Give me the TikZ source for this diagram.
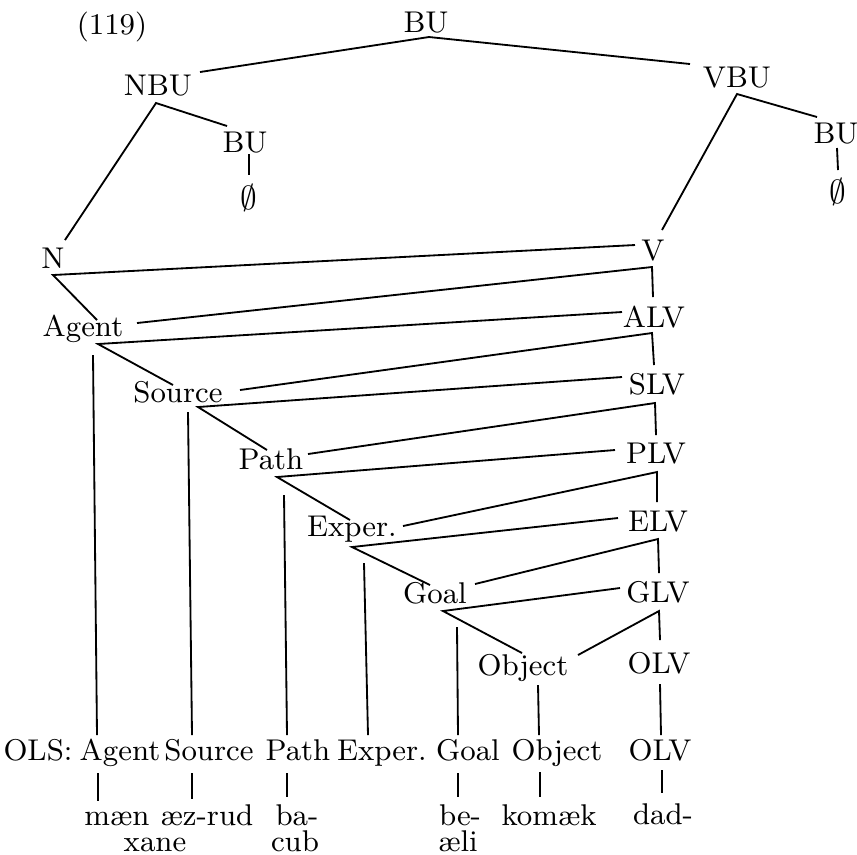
\documentclass[tikz,border=0pt]{standalone}
\usepackage{fontspec}
\begin{document}
\begin{tikzpicture}[x=0.3pt,y=-0.3pt,
  lbl/.style={inner sep=0pt, anchor=base, font=\fontsize{9}{11}\selectfont},
  nul/.style={inner sep=0pt, anchor=center, font=\fontsize{10}{12}\selectfont},
  ln/.style={line width=0.55pt}]
\useasboundingbox (0,0) rectangle (857,854);
% ---------- labels ----------
\node[lbl] (num) at (112,34) {(119)};
\node[lbl] (BU) at (426,32) {BU};
\node[lbl] (NBU) at (158,95) {NBU};
\node[lbl] (BUl) at (245,152) {BU};
\node[nul] (nulL) at (249,198) {$\emptyset$};
\node[lbl] (VBU) at (737,87) {VBU};
\node[lbl] (BUr) at (836,143) {BU};
\node[nul] (nulR) at (838,192) {$\emptyset$};
\node[lbl] (N) at (53,268) {N};
\node[lbl] (V) at (653,260) {V};
\node[lbl] (Ag) at (83,336) {Agent};
\node[lbl] (ALV) at (654,327) {ALV};
\node[lbl] (So) at (178,402) {Source};
\node[lbl] (SLV) at (657,394) {SLV};
\node[lbl] (Pa) at (271,469) {Path};
\node[lbl] (PLV) at (656,463) {PLV};
\node[lbl] (Ex) at (352,536) {Exper.};
\node[lbl] (ELV) at (658,531) {ELV};
\node[lbl] (Go) at (435,603) {Goal};
\node[lbl] (GLV) at (658,602) {GLV};
\node[lbl] (Ob) at (523,675) {Object};
\node[lbl] (OLV) at (659,673) {OLV};
% bottom row
\node[lbl] (OLS) at (38,760) {OLS:};
\node[lbl] (bAg) at (120,760) {Agent};
\node[lbl] (bSo) at (209,760) {Source};
\node[lbl] (bPa) at (298,760) {Path};
\node[lbl] (bEx) at (382,760) {Exper.};
\node[lbl] (bGo) at (468,760) {Goal};
\node[lbl] (bOb) at (557,760) {Object};
\node[lbl] (bOLV) at (660,760) {OLV};
% words
\node[lbl] (w1) at (117,825) {mæn};
\node[lbl] (w2) at (207,825) {æz-rud};
\node[lbl] (w2b) at (155,851) {xane};
\node[lbl] (w3) at (297,825) {ba-};
\node[lbl] (w3b) at (295,851) {cub};
\node[lbl] (w4) at (460,825) {be-};
\node[lbl] (w4b) at (458,851) {æli};
\node[lbl] (w5) at (549,825) {komæk};
\node[lbl] (w6) at (663,824) {dad-};
% ---------- junction / end coordinates ----------
\coordinate (BUj) at (429,37);
\coordinate (NBUr) at (200,72);
\coordinate (VBUl) at (690,64);
\coordinate (NBUj) at (156,103);
\coordinate (BUlt) at (227,126);
\coordinate (Nt) at (65,240);
\coordinate (VBUj) at (737,94);
\coordinate (BUrt) at (817,117);
\coordinate (Vt) at (662,230);
\coordinate (BUlb) at (249,154);
\coordinate (nulLt) at (249,175);
\coordinate (BUrb) at (837,148);
\coordinate (nulRt) at (838,170);
% N / V row
\coordinate (Nj) at (53,275);
\coordinate (Vl) at (635,245);
\coordinate (Agt) at (97,320);
\coordinate (Vj) at (652,267);
\coordinate (Agr) at (137,323);
\coordinate (ALVt) at (653,297);
% Agent / ALV
\coordinate (Agj) at (98,344);
\coordinate (ALVl) at (622,312);
\coordinate (Sot) at (173,385);
\coordinate (ALVj) at (652,333);
\coordinate (Sor) at (240,390);
\coordinate (SLVt) at (654,365);
% Source / SLV
\coordinate (Soj) at (198,407);
\coordinate (SLVl) at (622,377);
\coordinate (Pat) at (267,450);
\coordinate (SLVj) at (655,403);
\coordinate (Par) at (308,454);
\coordinate (PLVt) at (656,435);
% Path / PLV
\coordinate (Paj) at (277,477);
\coordinate (PLVl) at (615,450);
\coordinate (Ext) at (350,520);
\coordinate (PLVj) at (657,472);
\coordinate (Exr) at (403,526);
\coordinate (ELVt) at (657,502);
% Exper / ELV
\coordinate (Exj) at (352,547);
\coordinate (ELVl) at (618,518);
\coordinate (Got) at (430,585);
\coordinate (ELVj) at (658,539);
\coordinate (Gor) at (475,584);
\coordinate (GLVt) at (659,573);
% Goal / GLV
\coordinate (Goj) at (443,611);
\coordinate (GLVl) at (620,588);
\coordinate (Obt) at (522,653);
\coordinate (GLVj) at (659,611);
\coordinate (Obr) at (578,655);
\coordinate (OLVt) at (660,640);
% long verticals
\coordinate (AgB) at (93,355);   \coordinate (bAgT) at (97,735);
\coordinate (SoB) at (188,412);  \coordinate (bSoT) at (192,735);
\coordinate (PaB) at (284,495);  \coordinate (bPaT) at (287,735);
\coordinate (ExB) at (364,563);  \coordinate (bExT) at (368,735);
\coordinate (GoB) at (457,627);  \coordinate (bGoT) at (458,735);
\coordinate (ObB) at (538,685);  \coordinate (bObT) at (539,735);
\coordinate (OLVB) at (660,684); \coordinate (bOLVT) at (661,735);
% short verticals to words
\coordinate (w1t) at (98,801);   \coordinate (bAgB) at (98,773);
\coordinate (w2t) at (192,799);  \coordinate (bSoB) at (192,773);
\coordinate (w3t) at (287,797);  \coordinate (bPaB) at (287,773);
\coordinate (w4t) at (458,797);  \coordinate (bGoB) at (458,773);
\coordinate (w5t) at (540,797);  \coordinate (bObB) at (540,772);
\coordinate (w6t) at (662,793);  \coordinate (bOLVB) at (662,770);
% ---------- connectors ----------
\begin{scope}[ln]
\draw (NBUr) -- (BUj) -- (VBUl);
\draw (BUlt) -- (NBUj) -- (Nt);
\draw (BUrt) -- (VBUj) -- (Vt);
\draw (BUlb) -- (nulLt);
\draw (BUrb) -- (nulRt);
\draw (Vl) -- (Nj) -- (Agt);
\draw (Agr) -- (Vj) -- (ALVt);
\draw (ALVl) -- (Agj) -- (Sot);
\draw (Sor) -- (ALVj) -- (SLVt);
\draw (SLVl) -- (Soj) -- (Pat);
\draw (Par) -- (SLVj) -- (PLVt);
\draw (PLVl) -- (Paj) -- (Ext);
\draw (Exr) -- (PLVj) -- (ELVt);
\draw (ELVl) -- (Exj) -- (Got);
\draw (Gor) -- (ELVj) -- (GLVt);
\draw (GLVl) -- (Goj) -- (Obt);
\draw (Obr) -- (GLVj) -- (OLVt);
\draw (AgB) -- (bAgT);
\draw (SoB) -- (bSoT);
\draw (PaB) -- (bPaT);
\draw (ExB) -- (bExT);
\draw (GoB) -- (bGoT);
\draw (ObB) -- (bObT);
\draw (OLVB) -- (bOLVT);
\draw (bAgB) -- (w1t);
\draw (bSoB) -- (w2t);
\draw (bPaB) -- (w3t);
\draw (bGoB) -- (w4t);
\draw (bObB) -- (w5t);
\draw (bOLVB) -- (w6t);
\end{scope}
\end{tikzpicture}
\end{document}
